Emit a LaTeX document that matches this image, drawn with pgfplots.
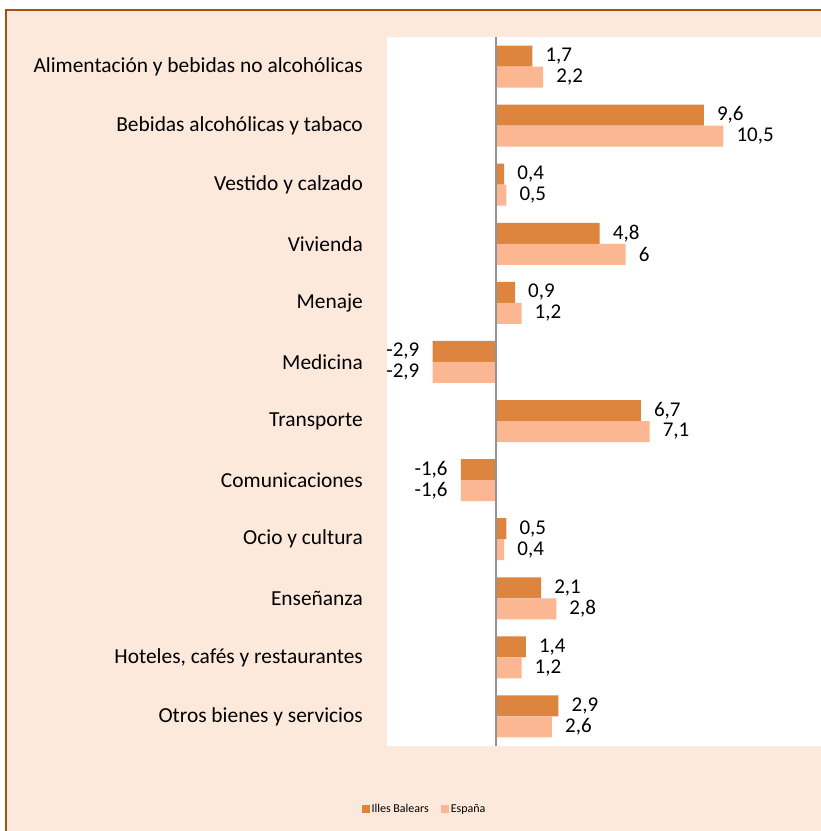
\documentclass[border=0pt]{standalone}
\usepackage{fontspec}
\setmainfont{Carlito}
\usepackage{pgfplots}
\pgfplotsset{compat=1.18}
\definecolor{ib}{RGB}{221,132,63}
\definecolor{es}{RGB}{250,183,146}
\definecolor{bg}{RGB}{253,233,219}
\definecolor{framec}{RGB}{166,80,20}
\begin{document}
\begin{tikzpicture}
\useasboundingbox (0,0) rectangle (821bp,-831bp);
\clip (0,0) rectangle (821bp,-831bp);
\fill[white] (0,0) rectangle (821bp,-831bp);
\draw[framec, line width=2bp, fill=bg] (6bp,-10bp) rectangle (900bp,-900bp);
\begin{axis}[
  at={(387bp,-37bp)}, anchor=north west,
  scale only axis, width=455.7bp, height=709bp,
  xmin=-5, xmax=16, ymin=-0.5, ymax=11.5, y dir=reverse,
  axis background/.style={fill=white},
  axis line style={draw=none},
  xtick=\empty, ytick={0,...,11},
  yticklabels={Alimentación y bebidas no alcohólicas, Bebidas alcohólicas y tabaco, Vestido y calzado, Vivienda, Menaje, Medicina, Transporte, Comunicaciones, Ocio y cultura, Enseñanza, {Hoteles, cafés y restaurantes}, Otros bienes y servicios},
  major tick length=0pt,
  yticklabel style={font=\fontsize{21.4bp}{25bp}\selectfont, anchor=east, inner sep=0pt, xshift=-24bp},
  xbar, bar width=21bp,
  /pgf/number format/assume math mode=true,
  /pgf/number format/use comma,
  nodes near coords,
  nodes near coords align={horizontal},
  nodes near coords style={font=\fontsize{21bp}{25bp}\selectfont, text=black, inner xsep=13bp, inner ysep=0pt},
  legend style={at={(axis description cs:0.0823,-0.0889)}, anchor=center, draw=none, fill=none,
    font=\fontsize{12bp}{14bp}\selectfont, legend columns=2,
    /tikz/every even column/.append style={column sep=10bp}},
  legend image code/.code={\fill[#1] (0bp,-4bp) rectangle (8bp,4bp);},
]
\addplot[fill=ib, draw=none, bar shift=10.5bp] coordinates {
  (1.7,0) (9.6,1) (0.4,2) (4.8,3) (0.9,4) (-2.9,5) (6.7,6) (-1.6,7) (0.5,8) (2.1,9) (1.4,10) (2.9,11)};
\addlegendentry{Illes Balears}
\addplot[fill=es, draw=none, bar shift=-10.5bp] coordinates {
  (2.2,0) (10.5,1) (0.5,2) (6,3) (1.2,4) (-2.9,5) (7.1,6) (-1.6,7) (0.4,8) (2.8,9) (1.2,10) (2.6,11)};
\addlegendentry{España}
\draw[gray!85, line width=2bp] (axis cs:0,-0.5) -- (axis cs:0,11.5);
\end{axis}
\end{tikzpicture}
\end{document}
